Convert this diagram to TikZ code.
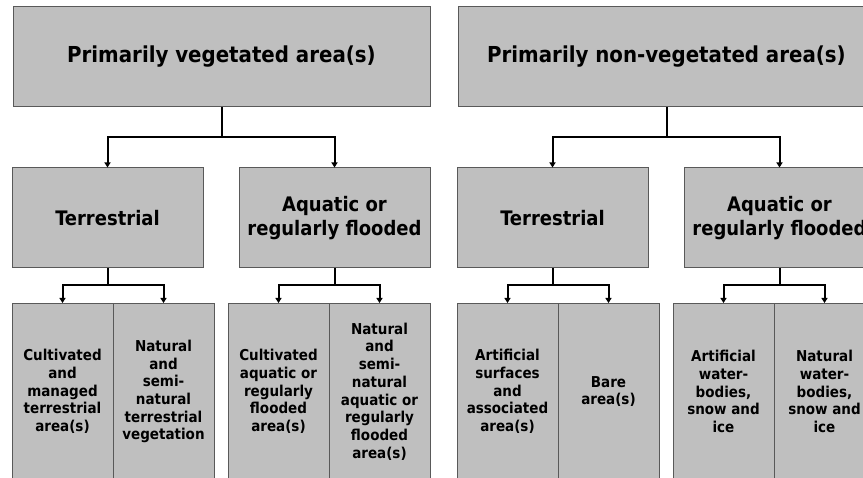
\documentclass[tikz,border=0pt]{standalone}
\usepackage{fontspec}
\setmainfont{DejaVu Sans Condensed}
\usetikzlibrary{arrows.meta}
\tikzset{
  box/.style={rectangle, draw=black!65, line width=1pt, fill=black!25, align=center, inner sep=0pt},
  topbox/.style={box, minimum width=417pt, minimum height=100pt, font=\bfseries\fontsize{22}{26}\selectfont},
  midbox/.style={box, minimum width=191pt, minimum height=100pt, font=\bfseries\fontsize{20}{23.5}\selectfont},
  leafbox/.style={box, anchor=north, minimum width=101pt, minimum height=176pt, font=\bfseries\fontsize{15}{17.7}\selectfont},
  link/.style={line width=2pt},
  arrow/.style={link, -{Triangle[width=6pt,length=5pt]}},
}

\begin{document}
\begin{tikzpicture}[x=1pt, y=-1pt]
    \useasboundingbox (0,0) rectangle (863,478);
    \clip (0,0) rectangle (863,478);
    % vegetated side
    \node[topbox] (veg) at (221.5,57) {Primarily vegetated area(s)};
    \node[midbox] (vegterr) at (107.5,218) {Terrestrial};
    \node[midbox] (vegaqua) at (334.5,218) {Aquatic or\\regularly flooded};
    \node[leafbox] (cultterr) at (62.5,303) {Cultivated\\and\\managed\\terrestrial\\area(s)};
    \node[leafbox] (natterr) at (163.5,303) {Natural\\and\\semi-\\natural\\terrestrial\\vegetation};
    \node[leafbox] (cultaqua) at (278.5,303) {Cultivated\\aquatic or\\regularly\\flooded\\area(s)};
    \node[leafbox] (nataqua) at (379.5,303) {Natural\\and\\semi-\\natural\\aquatic or\\regularly\\flooded\\area(s)};
    % non-vegetated side
    \node[topbox] (nonveg) at (666.5,57) {Primarily non-vegetated area(s)};
    \node[midbox] (nonvegterr) at (552.5,218) {Terrestrial};
    \node[midbox] (nonvegaqua) at (779.5,218) {Aquatic or\\regularly flooded};
    \node[leafbox] (artsurf) at (507.5,303) {Artificial\\surfaces\\and\\associated\\area(s)};
    \node[leafbox] (bare) at (608.5,303) {Bare\\area(s)};
    \node[leafbox] (artwater) at (723.5,303) {Artificial\\water-\\bodies,\\snow and\\ice};
    \node[leafbox] (natwater) at (824.5,303) {Natural\\water-\\bodies,\\snow and\\ice};
    % forks
    \coordinate (vegfork) at (221.5,137);
    \coordinate (vegterrfork) at (107.5,285);
    \coordinate (vegaquafork) at (334.5,285);
    \coordinate (nonvegfork) at (666.5,137);
    \coordinate (nonvegterrfork) at (552.5,285);
    \coordinate (nonvegaquafork) at (779.5,285);
    % connectors
    \draw[link] (veg) -- (vegfork);
    \draw[arrow] (vegfork) -| (vegterr);
    \draw[arrow] (vegfork) -| (vegaqua);
    \draw[link] (vegterr) -- (vegterrfork);
    \draw[arrow] (vegterrfork) -| (cultterr);
    \draw[arrow] (vegterrfork) -| (natterr);
    \draw[link] (vegaqua) -- (vegaquafork);
    \draw[arrow] (vegaquafork) -| (cultaqua);
    \draw[arrow] (vegaquafork) -| (nataqua);
    \draw[link] (nonveg) -- (nonvegfork);
    \draw[arrow] (nonvegfork) -| (nonvegterr);
    \draw[arrow] (nonvegfork) -| (nonvegaqua);
    \draw[link] (nonvegterr) -- (nonvegterrfork);
    \draw[arrow] (nonvegterrfork) -| (artsurf);
    \draw[arrow] (nonvegterrfork) -| (bare);
    \draw[link] (nonvegaqua) -- (nonvegaquafork);
    \draw[arrow] (nonvegaquafork) -| (artwater);
    \draw[arrow] (nonvegaquafork) -| (natwater);
\end{tikzpicture}
\end{document}
